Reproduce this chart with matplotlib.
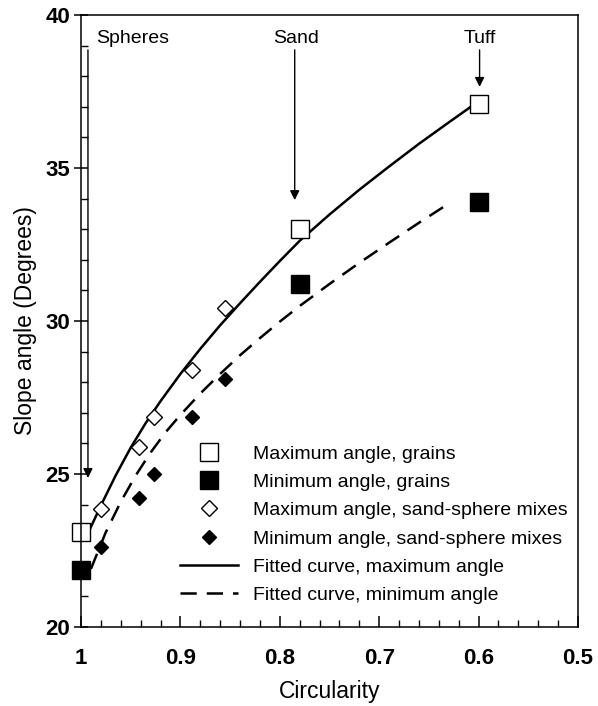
import matplotlib
matplotlib.use("Agg")
import matplotlib.pyplot as plt
from matplotlib.ticker import MultipleLocator

plt.rcParams['font.family'] = ['Liberation Sans', 'DejaVu Sans']

# grains (spheres, sand, tuff)
grain_circ = [1.0, 0.78, 0.60]
grain_max = [23.1, 33.0, 37.1]
grain_min = [21.85, 31.2, 33.9]

# sand-sphere mixes
mix_circ = [0.980, 0.942, 0.927, 0.888, 0.855]
mix_max = [23.85, 25.87, 26.85, 28.4, 30.43]
mix_min = [22.6, 24.21, 25.0, 26.87, 28.1]

# fitted curves
fit_max_c = [0.993, 0.98, 0.965, 0.95, 0.935, 0.92, 0.90, 0.88, 0.86, 0.84,
             0.82, 0.80, 0.78, 0.75, 0.72, 0.69, 0.66, 0.63, 0.607]
fit_max_y = [23.06, 23.97, 24.96, 25.86, 26.66, 27.38, 28.27, 29.09, 29.86, 30.58,
             31.28, 31.96, 32.62, 33.48, 34.29, 35.05, 35.79, 36.49, 37.02]
fit_min_c = [0.99, 0.975, 0.96, 0.945, 0.93, 0.915, 0.90, 0.88, 0.86, 0.84,
             0.82, 0.80, 0.78, 0.75, 0.72, 0.69, 0.66, 0.629]
fit_min_y = [21.9, 23.10, 24.09, 24.95, 25.70, 26.36, 26.93, 27.63, 28.27, 28.88,
             29.44, 29.98, 30.49, 31.21, 31.90, 32.56, 33.21, 33.86]

fig = plt.figure(figsize=(5.98, 7.06), dpi=100)
ax = fig.add_axes([81/598, 79/706, 497/598, 612/706])

ax.plot(fit_max_c, fit_max_y, '-', color='black', lw=1.8, label='Fitted curve, maximum angle')
ax.plot(fit_min_c, fit_min_y, '--', color='black', lw=1.8, dashes=(6.5, 4), label='Fitted curve, minimum angle')

ax.plot(grain_circ, grain_max, 's', ms=12.5, mfc='white', mec='black', mew=1.0, clip_on=False, label='Maximum angle, grains')
ax.plot(grain_circ, grain_min, 's', ms=12.5, mfc='black', mec='black', clip_on=False, label='Minimum angle, grains')
ax.plot(mix_circ, mix_max, 'D', ms=8.5, mfc='white', mec='black', mew=1.0, label='Maximum angle, sand-sphere mixes')
ax.plot(mix_circ, mix_min, 'D', ms=7, mfc='black', mec='black', label='Minimum angle, sand-sphere mixes')

ax.set_xlim(1.0, 0.5)
ax.set_ylim(20, 40)
ax.set_xticks([1.0, 0.9, 0.8, 0.7, 0.6, 0.5])
ax.set_xticklabels(['1', '0.9', '0.8', '0.7', '0.6', '0.5'])
ax.xaxis.set_minor_locator(MultipleLocator(0.02))
ax.yaxis.set_major_locator(MultipleLocator(5))
ax.yaxis.set_minor_locator(MultipleLocator(1))
ax.tick_params(axis='x', which='major', direction='in', length=8, width=1.1, labelsize=16, pad=15)
ax.tick_params(axis='y', which='major', direction='inout', length=10, width=1.1, labelsize=16, pad=3)
ax.tick_params(which='minor', direction='in', length=5, width=1.0)
for lab in ax.get_xticklabels() + ax.get_yticklabels():
    lab.set_fontweight('bold')
for sp in ax.spines.values():
    sp.set_linewidth(1.1)

ax.set_xlabel('Circularity', fontsize=16.5, labelpad=8)
ax.set_ylabel('Slope angle (Degrees)', fontsize=16.5, labelpad=6)

arrow = dict(arrowstyle='-|>', color='black', lw=1.0, mutation_scale=14, shrinkA=0, shrinkB=0)
ax.annotate('', xy=(0.993, 24.87), xytext=(0.993, 38.86), arrowprops=arrow)
ax.annotate('', xy=(0.785, 33.95), xytext=(0.785, 38.86), arrowprops=arrow)
ax.annotate('', xy=(0.599, 37.65), xytext=(0.599, 38.86), arrowprops=arrow)
ax.text(0.985, 39.24, 'Spheres', ha='left', va='center', fontsize=14)
ax.text(0.784, 39.24, 'Sand', ha='center', va='center', fontsize=14)
ax.text(0.599, 39.24, 'Tuff', ha='center', va='center', fontsize=14)

h, l = ax.get_legend_handles_labels()
order = [2, 3, 4, 5, 0, 1]
ax.legend([h[i] for i in order], [l[i] for i in order], loc='upper left',
          bbox_to_anchor=(180/598, 1 - 445/706), bbox_transform=fig.transFigure,
          frameon=False, fontsize=14, handlelength=3.0, handletextpad=0.77,
          labelspacing=0.55, borderpad=0, borderaxespad=0, numpoints=1)

fig.savefig('out.png', dpi=100)
